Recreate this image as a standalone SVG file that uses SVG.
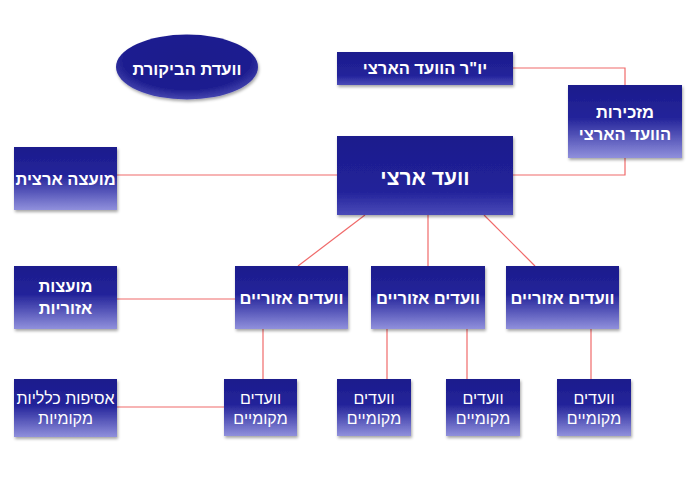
<svg xmlns="http://www.w3.org/2000/svg" width="700" height="483" viewBox="0 0 700 483">
<defs>
<linearGradient id="g" x1="0" y1="0" x2="0" y2="1">
<stop offset="0" stop-color="#1c1c8c"/>
<stop offset="0.45" stop-color="#23239a"/>
<stop offset="1" stop-color="#9090dc"/>
</linearGradient>
<linearGradient id="g2" x1="0" y1="0" x2="0" y2="1">
<stop offset="0" stop-color="#1c1c8c"/>
<stop offset="0.7" stop-color="#22229a"/>
<stop offset="1" stop-color="#4a4ab8"/>
</linearGradient>
<radialGradient id="ge" cx="0.5" cy="0.4" r="0.6">
<stop offset="0" stop-color="#1c1c8c"/>
<stop offset="0.75" stop-color="#1e1e90"/>
<stop offset="1" stop-color="#4646b0"/>
</radialGradient>
<filter id="sh" x="-10%" y="-10%" width="125%" height="130%">
<feDropShadow dx="1" dy="2" stdDeviation="1.5" flood-color="#000" flood-opacity="0.35"/>
</filter>
<style>
.b{fill:url(#g);filter:url(#sh)}
.b2{fill:url(#g2);filter:url(#sh)}
.t{fill:#fff;font-family:"Liberation Sans","DejaVu Sans",sans-serif;font-size:16.5px;font-weight:bold;text-anchor:middle}
.tn{fill:#fff;font-family:"Liberation Sans","DejaVu Sans",sans-serif;font-size:16px;text-anchor:middle}
.c{stroke:#f06a6a;stroke-width:1.2;fill:none}
</style>
</defs>
<rect width="700" height="483" fill="#fff"/>
<g id="connectors">
<polyline class="c" points="513,68 625,68 625,85"/>
<polyline class="c" points="625,158 625,175 513,175"/>
<line class="c" x1="117" y1="175" x2="337" y2="175"/>
<line class="c" x1="365" y1="215" x2="298" y2="266"/>
<line class="c" x1="428" y1="215" x2="428" y2="266"/>
<line class="c" x1="484" y1="215" x2="535" y2="266"/>
<line class="c" x1="117" y1="299" x2="235" y2="299"/>
<line class="c" x1="263" y1="329" x2="263" y2="379"/>
<line class="c" x1="387" y1="329" x2="387" y2="379"/>
<line class="c" x1="467" y1="329" x2="467" y2="379"/>
<line class="c" x1="591" y1="329" x2="591" y2="379"/>
<line class="c" x1="117" y1="407" x2="224" y2="407"/>
</g>
<g id="n-bikoret">
<ellipse cx="187" cy="67" rx="71" ry="32.5" fill="url(#ge)" filter="url(#sh)"/>
<text class="t" x="187" y="75">וועדת הביקורת</text>
</g>
<g id="n-yor">
<rect class="b2" x="337" y="52" width="176" height="33"/>
<text class="t" x="425" y="74">יו"ר הוועד הארצי</text>
</g>
<g id="n-mazkirut">
<rect class="b" x="568" y="85" width="114" height="73"/>
<text class="t" x="625" y="118">מזכירות</text>
<text class="t" x="625" y="140">הוועד הארצי</text>
</g>
<g id="n-vaad">
<rect class="b2" x="337" y="136" width="176" height="79"/>
<text class="t" x="425" y="185" style="font-size:21px">וועד ארצי</text>
</g>
<g id="n-moetza">
<rect class="b" x="14" y="147" width="103" height="63"/>
<text class="t" x="65.5" y="185">מועצה ארצית</text>
</g>
<g id="n-moatzot">
<rect class="b" x="14" y="266" width="103" height="63"/>
<text class="t" x="65.5" y="292">מועצות</text>
<text class="t" x="65.5" y="314">אזוריות</text>
</g>
<g id="n-r1">
<rect class="b" x="235" y="266" width="113" height="63"/>
<text class="t" x="291.5" y="304">וועדים אזוריים</text>
</g>
<g id="n-r2">
<rect class="b" x="371" y="266" width="114" height="63"/>
<text class="t" x="428" y="304">וועדים אזוריים</text>
</g>
<g id="n-r3">
<rect class="b" x="506" y="266" width="113" height="63"/>
<text class="t" x="562.5" y="304">וועדים אזוריים</text>
</g>
<g id="n-asifot">
<rect class="b" x="14" y="379" width="103" height="58"/>
<text class="tn" x="65.5" y="404">אסיפות כלליות</text>
<text class="tn" x="65.5" y="424">מקומיות</text>
</g>
<g id="n-l1">
<rect class="b" x="224" y="379" width="73" height="57"/>
<text class="tn" x="260.5" y="404">וועדים</text>
<text class="tn" x="260.5" y="424">מקומיים</text>
</g>
<g id="n-l2">
<rect class="b" x="337" y="379" width="74" height="57"/>
<text class="tn" x="374" y="404">וועדים</text>
<text class="tn" x="374" y="424">מקומיים</text>
</g>
<g id="n-l3">
<rect class="b" x="446" y="379" width="74" height="57"/>
<text class="tn" x="483" y="404">וועדים</text>
<text class="tn" x="483" y="424">מקומיים</text>
</g>
<g id="n-l4">
<rect class="b" x="557" y="379" width="74" height="57"/>
<text class="tn" x="594" y="404">וועדים</text>
<text class="tn" x="594" y="424">מקומיים</text>
</g>
</svg>
